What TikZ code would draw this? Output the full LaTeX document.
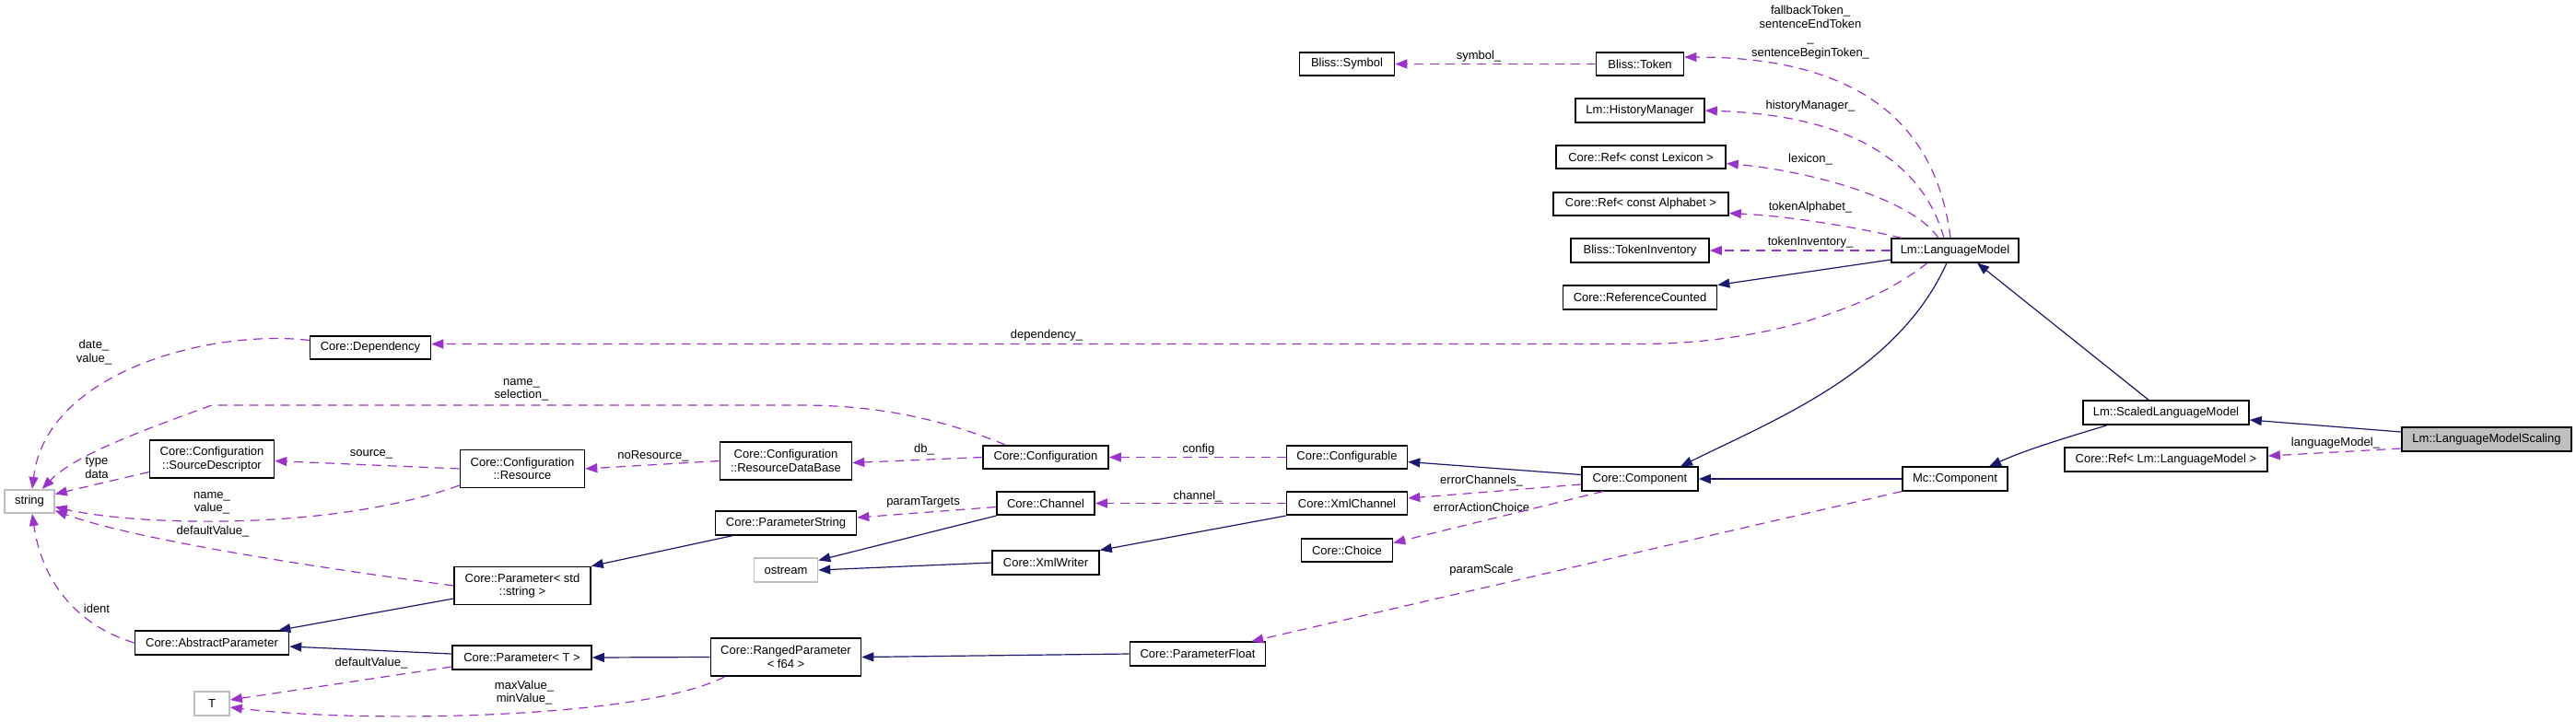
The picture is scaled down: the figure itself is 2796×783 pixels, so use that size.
\documentclass[tikz,border=0pt]{standalone}
\usepackage{fontspec}
\setmainfont{Liberation Sans}
\usetikzlibrary{arrows.meta}
\definecolor{inhc}{HTML}{191970}
\definecolor{usec}{HTML}{9A32CD}
\definecolor{grayb}{HTML}{BFBFBF}
\definecolor{selfill}{HTML}{BFBFBF}
\newcommand\dxfont{\fontsize{6.5}{7.2}\selectfont}
\begin{document}
\begin{tikzpicture}[x=0.5pt,y=-0.5pt,
  box/.style={draw=black,line width=0.8pt,fill=white,inner sep=0pt,font=\dxfont,align=center,minimum height=12.75pt},
  twoline/.style={minimum height=20.5pt},
  gbox/.style={box,draw=grayb},
  inh/.style={draw=inhc,line width=0.6pt,-{Triangle[length=6.5pt,width=5pt]}},
  use/.style={draw=usec,line width=0.6pt,dash pattern=on 5pt off 3.5pt,-{Triangle[length=6.5pt,width=5pt]}},
  lab/.style={inner sep=0pt,font=\dxfont,align=center}]
\fill[white] (0,0) rectangle (2796,783);
\useasboundingbox (0,0) rectangle (2796,783);

% nodes
\node[gbox,minimum width=27pt] (string) at (32,544.5) {string};
\node[box,minimum width=65.5pt] (dep) at (402,377.5) {Core::Dependency};
\node[box,twoline,minimum width=67.5pt] (srcdesc) at (230,498.5) {Core::Configuration\\::SourceDescriptor};
\node[box,twoline,minimum width=67.5pt] (resource) at (567,509) {Core::Configuration\\::Resource};
\node[box,twoline,minimum width=74pt] (pstd) at (567,636) {Core::Parameter< std\\::string >};
\node[box,minimum width=83.5pt] (absparam) at (230,698) {Core::AbstractParameter};
\node[box,minimum width=75.5pt] (pT) at (566.5,714) {Core::Parameter< T >};
\node[gbox,minimum width=19pt] (T) at (230,764) {T};
\node[box,twoline,minimum width=71.5pt] (rdb) at (853,500.5) {Core::Configuration\\::ResourceDataBase};
\node[box,minimum width=68pt] (config) at (1135,496.5) {Core::Configuration};
\node[box,minimum width=65.5pt] (configurable) at (1462,496.5) {Core::Configurable};
\node[box,minimum width=76.5pt] (pstring) at (853,568) {Core::ParameterString};
\node[box,minimum width=53pt] (channel) at (1135,546.5) {Core::Channel};
\node[box,minimum width=65.5pt] (xmlchannel) at (1462,546.5) {Core::XmlChannel};
\node[box,minimum width=49.5pt] (choice) at (1462,597.5) {Core::Choice};
\node[gbox,minimum width=34.5pt] (ostream) at (853,619) {ostream};
\node[box,minimum width=58pt] (xmlwriter) at (1135,611) {Core::XmlWriter};
\node[box,twoline,minimum width=81.5pt] (ranged) at (853,713.5) {Core::RangedParameter\\< f64 >};
\node[box,minimum width=73.5pt] (pfloat) at (1300,710) {Core::ParameterFloat};
\node[box,minimum width=51.5pt] (symbol) at (1462,69.5) {Bliss::Symbol};
\node[box,minimum width=47.5pt] (token) at (1780,69.5) {Bliss::Token};
\node[box,minimum width=70pt] (histmgr) at (1780,120) {Lm::HistoryManager};
\node[box,minimum width=92pt] (lexicon) at (1781,170.5) {Core::Ref< const Lexicon >};
\node[box,minimum width=95pt] (alphabet) at (1781,221.5) {Core::Ref< const Alphabet >};
\node[box,minimum width=75pt] (tokinv) at (1780,272) {Bliss::TokenInventory};
\node[box,minimum width=83.5pt] (refcount) at (1780,323) {Core::ReferenceCounted};
\node[box,minimum width=69pt] (lm) at (2122,272) {Lm::LanguageModel};
\node[box,minimum width=63pt] (component) at (1780,520) {Core::Component};
\node[box,minimum width=57pt] (mccomp) at (2122,520) {Mc::Component};
\node[box,minimum width=90pt,minimum height=13pt] (slm) at (2351,448) {Lm::ScaledLanguageModel};
\node[box,fill=selfill,minimum width=92pt,minimum height=13pt] (lms) at (2699,477) {Lm::LanguageModelScaling};
\node[box,minimum width=110pt,minimum height=13pt] (reflm) at (2351,499) {Core::Ref< Lm::LanguageModel >};

% labels
\node[lab] (l1) at (102,382.5) {date\_\\value\_};
\node[lab] (l2) at (566,423.5) {name\_\\selection\_};
\node[lab] (l3) at (105,508) {type\\data};
\node[lab] (l4) at (403,493) {source\_};
\node[lab] (l5) at (709,495) {noResource\_};
\node[lab] (l6) at (230,546) {name\_\\value\_};
\node[lab] (l7) at (231,577) {defaultValue\_};
\node[lab] (l8) at (105,661) {ident};
\node[lab] (l9) at (403,720.5) {defaultValue\_};
\node[lab] (l10) at (569,752) {maxValue\_\\minValue\_};
\node[lab] (l11) at (1136,364.5) {dependency\_};
\node[lab] (l12) at (1003,488) {db\_};
\node[lab] (l13) at (1301,488) {config};
\node[lab] (l14) at (1002,545) {paramTargets};
\node[lab] (l15) at (1300,539) {channel\_};
\node[lab] (l16) at (1608,522.5) {errorChannels\_};
\node[lab] (l17) at (1608,551) {errorActionChoice};
\node[lab] (l18) at (1608,619.5) {paramScale};
\node[lab] (l19) at (1965,263.5) {tokenInventory\_};
\node[lab] (l20) at (1965,225) {tokenAlphabet\_};
\node[lab] (l21) at (1965,173) {lexicon\_};
\node[lab] (l22) at (1965,115) {historyManager\_};
\node[lab,font=\fontsize{6.5}{7.6}\selectfont] (l23) at (1965,35) {fallbackToken\_\\sentenceEndToken\\\_\\sentenceBeginToken\_};
\node[lab] (l24) at (1605,61) {symbol\_};
\node[lab] (l25) at (2535,481) {languageModel\_};

% usage edges
\draw[use] ([yshift=4pt]dep.west) .. controls (230,357) and (50,403) .. ([xshift=1.5pt]string.north);
\draw[use] ([xshift=-22pt]config.north) .. controls (1020,454) and (950,440) .. (870,440) -- (230,440) .. controls (150,469) and (80,495) .. ([xshift=-7pt]string.north east);
\draw[use] ([yshift=-7pt]srcdesc.west) -- ([yshift=4pt]string.east);
\draw[use] (resource.west) -- ([yshift=-1pt]srcdesc.east);
\draw[use] ([yshift=-9pt]resource.west) .. controls (360,577) and (150,571) .. ([yshift=-3pt]string.east);
\draw[use] (pstd.west) .. controls (350,617) and (150,587) .. ([yshift=-5pt]string.east);
\draw[use] (absparam.west) .. controls (80,678) and (45,628) .. ([xshift=1.5pt]string.south);
\draw[use] ([yshift=-5pt]pT.west) -- ([yshift=2pt]T.east);
\draw[use] ([xshift=8pt]ranged.south west) .. controls (700,780) and (400,786) .. ([yshift=-2pt]T.east);
\draw[use] (config.west) -- ([yshift=-1pt]rdb.east);
\draw[use] (configurable.west) -- (config.east);
\draw[use] (rdb.west) -- (resource.east);
\draw[use] ([yshift=-2pt]channel.west) -- ([yshift=3pt]pstring.east);
\draw[use] (xmlchannel.west) -- (channel.east);
\draw[use] ([yshift=-3pt]component.west) -- ([yshift=2.75pt]xmlchannel.east);
\draw[use] ([xshift=12pt]component.south west) -- ([yshift=4pt]choice.east);
\draw[use] (mccomp.south west) -- ([xshift=-8pt]pfloat.north east);
\draw[use] ([xshift=-15pt]lm.south) .. controls (2020,342) and (1900,373.5) .. (1780,373.5) -- ([yshift=2pt]dep.east);
\draw[use] (lm.west) -- (tokinv.east);
\draw[use] ([xshift=6pt]lm.north west) .. controls (2030,250) and (1950,235) .. ([yshift=-5pt]alphabet.east);
\draw[use] ([xshift=-9pt]lm.north) .. controls (2075,215) and (1960,185) .. ([yshift=-3.5pt]lexicon.east);
\draw[use] ([xshift=-6pt]lm.north) .. controls (2085,170) and (2000,125) .. (histmgr.east);
\draw[use] ([xshift=-2.5pt]lm.north) .. controls (2100,120) and (2000,62) .. ([yshift=3.75pt]token.east);
\draw[use] (token.west) -- (symbol.east);
\draw[use] ([yshift=-5pt]lms.west) -- ([yshift=2pt]reflm.east);

% inheritance edges
\draw[inh] ([yshift=-7pt]pstd.west) -- ([xshift=-6pt]absparam.north east);
\draw[inh] ([yshift=2pt]pT.west) -- ([yshift=-2pt]absparam.east);
\draw[inh] ([xshift=10pt]pstring.south west) -- (pstd.north east);
\draw[inh] (ranged.west) -- (pT.east);
\draw[inh] (pfloat.west) -- (ranged.east);
\draw[inh] (channel.south west) -- ([yshift=-1.5pt]ostream.north east);
\draw[inh] (xmlwriter.west) -- (ostream.east);
\draw[inh] (xmlchannel.south west) -- (xmlwriter.north east);
\draw[inh] ([yshift=2.25pt]component.west) -- ([yshift=-2.5pt]configurable.east);
\draw[inh] (mccomp.west) -- (component.east);
\draw[inh] ([xshift=-4.5pt]lm.south) .. controls (2060,403) and (1930,454) .. ([xshift=22pt]component.north);
\draw[inh] ([yshift=-5pt]lm.west) -- (refcount.north east);
\draw[inh] ([xshift=-9.5pt]slm.north) -- ([xshift=12pt]lm.south);
\draw[inh] ([xshift=-32pt]slm.south) .. controls (2240,476) and (2200,488) .. ([xshift=18.5pt]mccomp.north);
\draw[inh] ([yshift=4pt]lms.west) -- ([yshift=-4pt]slm.east);
\end{tikzpicture}
\end{document}
